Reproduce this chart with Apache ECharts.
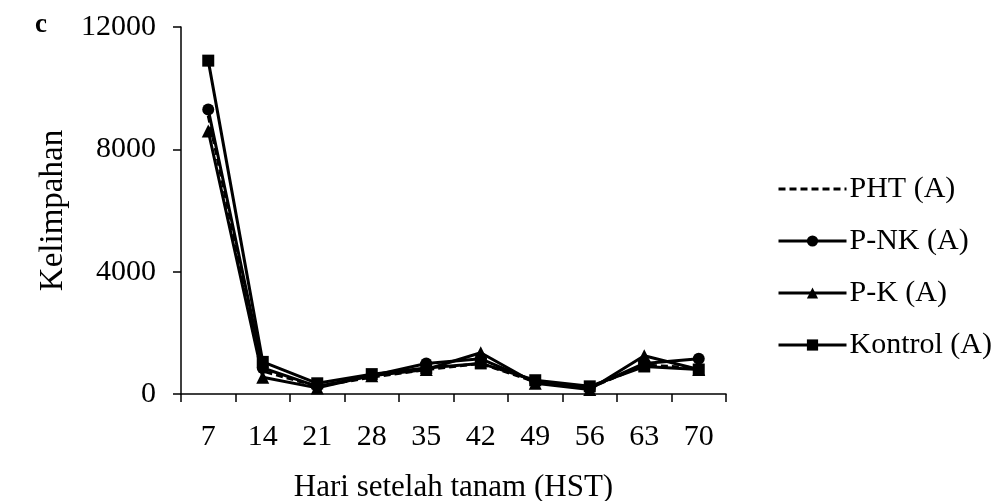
<!DOCTYPE html>
<html>
<head>
<meta charset="utf-8">
<script src="https://cdn.jsdelivr.net/npm/echarts@6/dist/echarts.min.js"></script>
<style>html,body{margin:0;padding:0;background:#fff}#chart{width:1002px;height:501px}</style>
</head>
<body>
<div id="chart"></div>
<script>
const days = ['7','14','21','28','35','42','49','56','63','70'];
const pht = [9100, 750, 250, 550, 800, 1000, 400, 200, 950, 850];
const pnk = [9300, 850, 250, 600, 1000, 1150, 400, 200, 1000, 1150];
const pk = [8600, 550, 200, 600, 800, 1350, 350, 150, 1250, 800];
const kontrol = [10900, 1050, 350, 650, 850, 1000, 450, 250, 900, 800];
const yTicks = [0, 4000, 8000, 12000];

const font = 'Liberation Serif';
const chart = echarts.init(document.getElementById('chart'), null, {renderer: 'canvas'});
function lineSeries(name, data, symbol, dashed) {
  return {
    name, type: 'line', data,
    symbol: symbol || 'none',
    symbolSize: symbol === 'triangle' ? 13 : 12,
    showSymbol: !!symbol,
    itemStyle: {color: '#000'},
    lineStyle: {color: '#000', width: 3, type: dashed ? [7, 4] : 'solid'},
    emphasis: {disabled: true},
    animation: false
  };
}
chart.setOption({
  backgroundColor: '#fff',
  animation: false,
  grid: {left: 181, right: 276, top: 27, bottom: 107, containLabel: false, outerBoundsMode: 'none'},
  graphic: [{
    type: 'text', left: 35, top: 12,
    style: {text: 'c', font: 'bold 27px "Liberation Serif"', fill: '#000'}
  }],
  legend: {
    orient: 'vertical', left: 772, top: 168,
    itemWidth: 68, itemHeight: 14, itemGap: 20,
    lineStyle: {width: 3},
    textStyle: {fontFamily: font, fontSize: 30, color: '#000', lineHeight: 32, padding: [0, 0, 0, -2]},
    data: [
      {name: 'PHT (A)', itemStyle: {opacity: 0}},
      'P-NK (A)', 'P-K (A)', 'Kontrol (A)'
    ]
  },
  xAxis: {
    type: 'category', data: days, boundaryGap: true,
    name: 'Hari setelah tanam (HST)', nameLocation: 'middle', nameGap: 78,
    nameTextStyle: {fontFamily: font, fontSize: 31, color: '#000'},
    axisLine: {lineStyle: {color: '#000', width: 1.5}},
    axisTick: {show: true, length: 8, inside: false, lineStyle: {color: '#000', width: 1.5}},
    axisLabel: {fontFamily: font, fontSize: 30, color: '#000', margin: 28}
  },
  yAxis: {
    type: 'value', min: 0, max: 12000, interval: 4000,
    name: 'Kelimpahan', nameLocation: 'middle', nameGap: 108,
    nameTextStyle: {fontFamily: font, fontSize: 33, color: '#000'},
    axisLine: {show: true, lineStyle: {color: '#000', width: 1.5}},
    axisTick: {show: true, length: 8, lineStyle: {color: '#000', width: 1.5}},
    splitLine: {show: false},
    axisLabel: {fontFamily: font, fontSize: 30, color: '#000', margin: 25,
      formatter: v => yTicks.includes(v) ? String(v) : ''}
  },
  series: [
    lineSeries('PHT (A)', pht, null, true),
    lineSeries('P-NK (A)', pnk, 'circle'),
    lineSeries('P-K (A)', pk, 'triangle'),
    lineSeries('Kontrol (A)', kontrol, 'rect')
  ]
});
</script>
</body>
</html>
